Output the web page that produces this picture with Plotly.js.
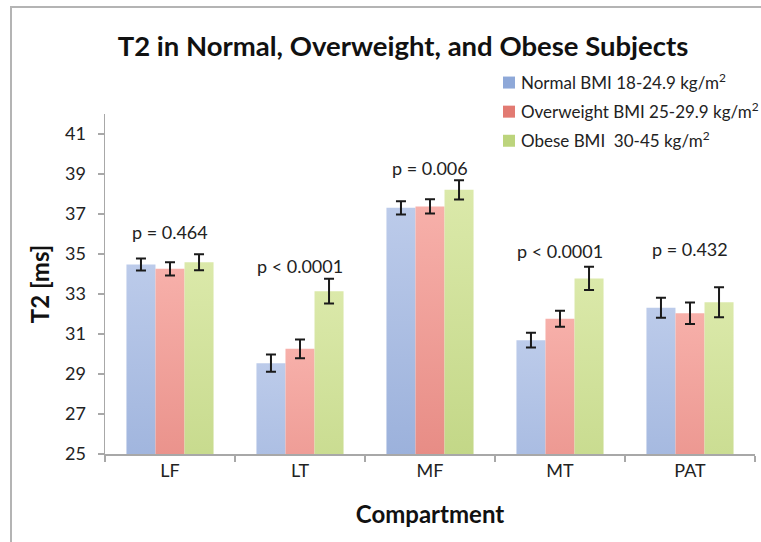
<!DOCTYPE html>
<html>
<head>
<meta charset="utf-8">
<script src="https://cdn.plot.ly/plotly-3.0.1.min.js"></script>
<style>
  html, body { margin: 0; padding: 0; background: #fff; }
  #wrap { position: relative; width: 761px; height: 542px; overflow: hidden; }
  #chart { width: 761px; height: 542px; }
  #frame { position: absolute; left: 10px; top: 6px; width: 800px; height: 600px;
           border-left: 2px solid #b4b4b4; border-top: 2px solid #b4b4b4; pointer-events: none; }
</style>
</head>
<body>
<div id="wrap">
  <div id="chart"></div>
  <div id="frame"></div>
</div>
<script>
const categories = ["LF", "LT", "MF", "MT", "PAT"];
const seriesNames = [
  "Normal BMI 18-24.9 kg/m<sup>2</sup>",
  "Overweight BMI 25-29.9 kg/m<sup>2</sup>",
  "Obese BMI&nbsp;&nbsp;30-45 kg/m<sup>2</sup>"
];
const normalT2 = [34.48, 29.54, 37.31, 30.69, 32.31];
const normalErr = [0.30, 0.43, 0.33, 0.37, 0.50];
const overweightT2 = [34.26, 30.26, 37.38, 31.76, 32.04];
const overweightErr = [0.33, 0.47, 0.36, 0.40, 0.54];
const obeseT2 = [34.59, 33.14, 38.21, 33.78, 32.59];
const obeseErr = [0.40, 0.62, 0.48, 0.58, 0.75];
const pLabels = ["p = 0.464", "p < 0.0001", "p = 0.006", "p < 0.0001", "p = 0.432"];
const pLabelY = [36.08, 34.38, 39.29, 35.13, 35.26];
const yTicks = [25, 27, 29, 31, 33, 35, 37, 39, 41];

const FONT = "Lato, 'Open Sans', sans-serif";
const solid = ["#8ea8d8", "#e27a72", "#bcd47c"];
const grads = [["#bccbea", "#5a7dbe"], ["#f7b0aa", "#c8453c"], ["#dbe9aa", "#96b646"]];

function barTrace(name, y, err, color, grp) {
  return {
    type: "bar", name: name, x: categories, y: y, legendgroup: grp,
    marker: { color: color, line: { width: 0 } },
    error_y: { type: "data", array: err, visible: true, color: "#1a1a1a", thickness: 2, width: 5 },
    hoverinfo: "skip"
  };
}

const data = [
  barTrace(seriesNames[0], normalT2, normalErr, solid[0], "g1"),
  barTrace(seriesNames[1], overweightT2, overweightErr, solid[1], "g2"),
  barTrace(seriesNames[2], obeseT2, obeseErr, solid[2], "g3")
];

const annotations = categories.map((c, i) => ({
  x: c, y: pLabelY[i], xref: "x", yref: "y", text: pLabels[i], showarrow: false,
  xanchor: "center", yanchor: "middle", font: { family: FONT, size: 18, color: "#222" }
}));

const LEGEND_LEFT = 481;

const layout = {
  width: 761, height: 542,
  margin: { l: 105, r: 6, t: 114, b: 88, autoexpand: false },
  paper_bgcolor: "#fff", plot_bgcolor: "#fff",
  font: { family: FONT, color: "#222" },
  title: { text: "<b>T2 in Normal, Overweight, and Obese Subjects</b>", x: 403 / 761, xref: "container",
           xanchor: "center", y: 1 - 46 / 542, yref: "container", yanchor: "middle",
           font: { family: FONT, size: 27.5, color: "#111" } },
  barmode: "group", bargap: 0.33, bargroupgap: 0,
  showlegend: true,
  legend: { x: (LEGEND_LEFT - 105) / 650, xanchor: "left", y: 1 + 49 / 340, yanchor: "top", bgcolor: "rgba(0,0,0,0)",
            font: { family: FONT, size: 17, color: "#222" }, tracegroupgap: 4, traceorder: "grouped" },
  xaxis: {
    type: "category", showline: true, linecolor: "#a8a8a8", linewidth: 1.5,
    ticks: "outside", tickson: "boundaries", ticklen: 6, tickcolor: "#a8a8a8", tickwidth: 1.5,
    tickfont: { family: FONT, size: 18, color: "#222" }, showgrid: false, zeroline: false,
    title: { text: "<b>Compartment</b>", font: { family: FONT, size: 24, color: "#111" }, standoff: 26 }
  },
  yaxis: {
    range: [25, 42], tickvals: yTicks, showline: true, linecolor: "#a8a8a8", linewidth: 1.5,
    ticks: "outside", ticklen: 6, tickcolor: "#a8a8a8", tickwidth: 1.5,
    tickfont: { family: FONT, size: 18, color: "#222" }, showgrid: false, zeroline: false,
    ticklabelstandoff: 8,
    title: { text: "<b>T2 [ms]</b>", font: { family: FONT, size: 24, color: "#111" }, standoff: 8 }
  },
  annotations: annotations
};

Plotly.newPlot("chart", data, layout, { staticPlot: true, displayModeBar: false }).then(gd => {
  const svg = gd.querySelector("svg.main-svg");
  const ns = "http://www.w3.org/2000/svg";
  let defs = svg.querySelector("defs");
  if (!defs) { defs = document.createElementNS(ns, "defs"); svg.insertBefore(defs, svg.firstChild); }
  grads.forEach((g, i) => {
    const lg = document.createElementNS(ns, "linearGradient");
    lg.setAttribute("id", "bargrad" + i);
    lg.setAttribute("x1", "0"); lg.setAttribute("y1", "0");
    lg.setAttribute("x2", "0"); lg.setAttribute("y2", "1");
    const s1 = document.createElementNS(ns, "stop");
    s1.setAttribute("offset", "0"); s1.setAttribute("stop-color", g[0]);
    const s2 = document.createElementNS(ns, "stop");
    s2.setAttribute("offset", "1"); s2.setAttribute("stop-color", g[1]);
    lg.appendChild(s1); lg.appendChild(s2); defs.appendChild(lg);
  });
  const traces = gd.querySelectorAll(".barlayer .trace.bars");
  traces.forEach((t, i) => {
    t.querySelectorAll("path").forEach(p => { p.style.fill = "url(#bargrad" + i + ")"; });
  });
  // keep the legend at its reference position even though its text runs to the right edge
  const leg = gd.querySelector("g.legend");
  if (leg) {
    const tr = leg.getAttribute("transform") || "";
    const m = tr.match(/translate\(\s*([-\d.]+)[ ,]+([-\d.]+)\s*\)/);
    if (m) leg.setAttribute("transform", "translate(" + LEGEND_LEFT + "," + m[2] + ")");
    // bring the swatches closer to their labels, as in the reference
    leg.querySelectorAll("g.legendsymbols").forEach(s => {
      const old = s.getAttribute("transform") || "";
      s.setAttribute("transform", old + " translate(8,0)");
    });
  }
});
</script>
</body>
</html>
